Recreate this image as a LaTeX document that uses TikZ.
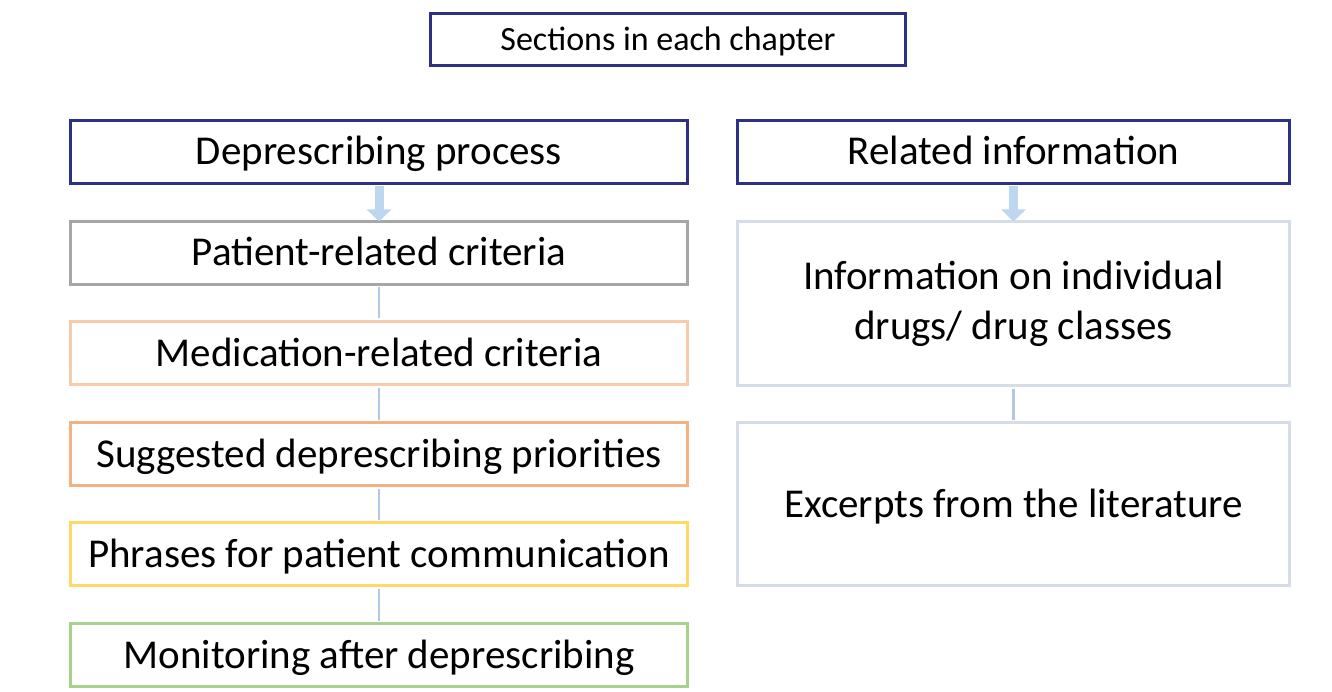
\documentclass[tikz,border=0pt]{standalone}
\usepackage{fontspec}
\setmainfont{Carlito}
\usetikzlibrary{arrows.meta}
\definecolor{navy}{HTML}{2E3086}
\definecolor{boxgray}{HTML}{A6A6A6}
\definecolor{peach}{HTML}{F8CBAD}
\definecolor{apricot}{HTML}{F4B183}
\definecolor{sun}{HTML}{FFD966}
\definecolor{leaf}{HTML}{A9D18E}
\definecolor{mist}{HTML}{D6DCE8}
\definecolor{sky}{HTML}{BDD7EE}
\definecolor{linkblue}{HTML}{B4C7E7}
\tikzset{
  sectionbox/.style={draw, line width=3pt, fill=white, inner sep=0pt, align=center,
    font=\fontsize{41}{50}\selectfont},
  oneline/.style={text height=33pt, text depth=7pt},
  leftbox/.style={sectionbox, oneline, minimum width=617pt, minimum height=63pt},
  rightbox/.style={sectionbox, minimum width=552pt},
  headarrow/.style={draw=sky, line width=9pt, -{Triangle[width=24pt,length=12pt]}},
  link/.style={draw=linkblue, line width=2.5pt}
}
\begin{document}
\begin{tikzpicture}[x=1pt,y=-1pt]
\useasboundingbox (0,0) rectangle (1332,692);

% chapter title
\node[sectionbox, draw=navy, minimum width=475pt, minimum height=52pt,
      text height=27pt, text depth=5pt,
      font=\fontsize{34}{40}\selectfont] (title) at (668,39.5) {Sections in each chapter};

% deprescribing column
\node[leftbox, draw=navy] (proc) at (379,152) {Deprescribing process};
\node[leftbox, draw=boxgray] (patient) at (379,253) {Patient-related criteria};
\node[leftbox, draw=peach] (medication) at (379,353) {Medication-related criteria};
\node[leftbox, draw=apricot] (priorities) at (379,454) {Suggested deprescribing priorities};
\node[leftbox, draw=sun] (phrases) at (379,554) {Phrases for patient communication};
\node[leftbox, draw=leaf] (monitoring) at (379,655) {Monitoring after deprescribing};

% related information column
\node[rightbox, oneline, draw=navy, minimum height=63pt] (related) at (1013.5,152) {Related information};
\node[rightbox, draw=mist, minimum height=164pt] (drugs) at (1013.5,303.5) {Information on individual\\drugs/ drug classes};
\node[rightbox, oneline, draw=mist, minimum height=163pt] (excerpts) at (1013.5,504) {Excerpts from the literature};

% connectors
\draw[headarrow] ([yshift=-1.5pt]proc.south) -- ([yshift=-1.5pt]patient.north);
\draw[headarrow] ([yshift=-1.5pt]related.south) -- ([yshift=-1.5pt]drugs.north);
\draw[link] ([yshift=-1.5pt]patient.south) -- ([yshift=1.5pt]medication.north);
\draw[link] ([yshift=-1.5pt]medication.south) -- ([yshift=1.5pt]priorities.north);
\draw[link] ([yshift=-1.5pt]priorities.south) -- ([yshift=1.5pt]phrases.north);
\draw[link] ([yshift=-1.5pt]phrases.south) -- ([yshift=1.5pt]monitoring.north);
\draw[link] ([yshift=-1.5pt]drugs.south) -- ([yshift=1.5pt]excerpts.north);
\end{tikzpicture}
\end{document}
